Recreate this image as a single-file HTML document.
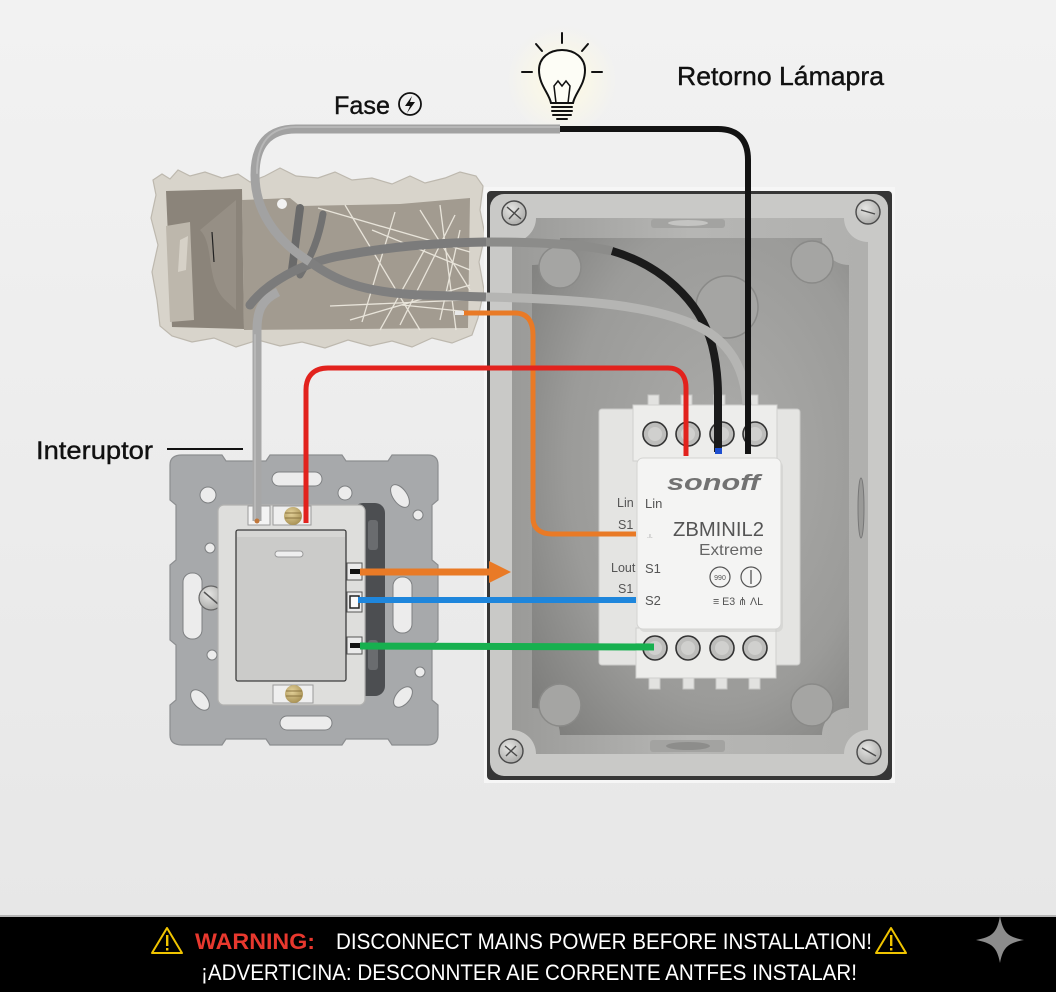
<!DOCTYPE html>
<html><head><meta charset="utf-8"><style>
html,body{margin:0;padding:0;background:#eee;}
svg{display:block;}
text{font-family:"Liberation Sans","Noto Sans CJK SC",sans-serif;}
</style></head><body>
<svg xmlns="http://www.w3.org/2000/svg" width="1056" height="992" viewBox="0 0 1056 992">
<defs>
<linearGradient id="wall" x1="0" y1="0" x2="0" y2="1">
 <stop offset="0" stop-color="#f2f2f2"/><stop offset="1" stop-color="#e7e7e7"/>
</linearGradient>
<radialGradient id="floor" cx="0.6" cy="0.45" r="0.75">
 <stop offset="0" stop-color="#acacaa"/><stop offset="0.65" stop-color="#9b9b99"/><stop offset="1" stop-color="#7f7f7d"/>
</radialGradient>
<linearGradient id="rim" x1="0" y1="0" x2="1" y2="0">
 <stop offset="0" stop-color="#9a9a98"/><stop offset="0.5" stop-color="#b6b6b4"/><stop offset="1" stop-color="#b0b0ae"/>
</linearGradient>
<radialGradient id="glow" cx="0.5" cy="0.5" r="0.5">
 <stop offset="0" stop-color="#fffbe2"/><stop offset="1" stop-color="#fffbe2" stop-opacity="0"/>
</radialGradient>
<radialGradient id="scr" cx="0.4" cy="0.35" r="0.7">
 <stop offset="0" stop-color="#e6e6e4"/><stop offset="1" stop-color="#a9a9a7"/>
</radialGradient>
<radialGradient id="brass" cx="0.4" cy="0.35" r="0.7">
 <stop offset="0" stop-color="#e4d29a"/><stop offset="1" stop-color="#a68f52"/>
</radialGradient>
</defs>

<!-- wall -->
<rect x="0" y="0" width="1056" height="917" fill="url(#wall)"/>
<circle cx="562" cy="80" r="55" fill="url(#glow)"/>

<!-- ===== wall hole ===== -->
<path d="M153,180 L162,174 170,179 178,170 190,176 205,172 222,178 238,174 250,182 265,176 280,168 296,176 318,178 335,172 352,180 372,178 392,184 410,176 425,183 445,178 460,172 476,176 483,186 480,210 485,235 479,262 484,290 478,318 472,335 452,343 432,338 412,347 392,341 370,346 348,340 325,348 302,342 280,346 258,340 236,347 214,338 192,342 172,336 160,326 157,300 152,272 158,245 151,218 156,195 Z" fill="#d8d4cb" stroke="#bdb8ae" stroke-width="1.2"/>
<path d="M166,191 L242,189 L244,329 L172,327 Z" fill="#8b847a"/>
<path d="M166,226 L190,222 L194,320 L170,322 Z" fill="#bdb7ac"/>
<path d="M180,240 L188,236 L186,270 L178,272 Z" fill="#d6d1c7"/>
<path d="M242,200 L290,198 L300,206 L400,204 L470,198 L468,328 L244,330 Z" fill="#a29b90"/>
<path d="M200,230 C215,245 205,280 225,300 L236,310 L236,200 Z" fill="#968f85"/>
<g stroke="#ece8de" stroke-width="1.3" fill="none" opacity="0.95">
 <path d="M318,208 L470,252"/><path d="M345,205 L420,330"/><path d="M395,212 L362,322"/>
 <path d="M440,205 L456,330"/><path d="M402,305 L470,312"/><path d="M330,306 L465,300"/>
 <path d="M420,210 L470,290"/><path d="M455,215 L400,325"/><path d="M372,230 L470,270"/>
 <path d="M430,240 L380,330"/><path d="M460,230 L440,320"/><path d="M350,320 L470,285"/>
</g>
<path d="M212,232 L214,262" stroke="#222" stroke-width="1.2"/>

<!-- ===== box recess ===== -->
<rect x="484" y="187" width="411" height="596" fill="#f6f6f6"/>
<rect x="487" y="191" width="405" height="589" rx="4" fill="#363636"/>
<rect x="490" y="194" width="398" height="582" rx="14" fill="#c9c9c7"/>
<path d="M536,218 L844,218 A24,24 0 0 0 868,242 L868,730 A24,24 0 0 0 844,754 L536,754 A24,24 0 0 0 512,730 L512,242 A24,24 0 0 0 536,218 Z" fill="url(#rim)"/>
<path d="M560,238 L822,238 A27,27 0 0 0 849,265 L849,708 A27,27 0 0 0 822,735 L560,735 A27,27 0 0 0 532,708 L532,265 A27,27 0 0 0 560,238 Z" fill="url(#floor)"/>
<!-- notches -->
<rect x="651" y="219" width="74" height="9" rx="3" fill="#a3a3a1"/>
<ellipse cx="688" cy="223" rx="20" ry="3" fill="#c4c4c2"/>
<rect x="650" y="740" width="75" height="12" rx="3" fill="#a3a3a1"/>
<ellipse cx="688" cy="746" rx="22" ry="4" fill="#8d8d8b"/>
<!-- side feature -->
<ellipse cx="861" cy="508" rx="3" ry="30" fill="#9a9a98" stroke="#777" stroke-width="1"/>
<!-- knockouts -->
<g fill="#a5a5a3" stroke="#8a8a88" stroke-width="1.5">
 <circle cx="560" cy="267" r="21"/><circle cx="727" cy="307" r="31"/><circle cx="812" cy="262" r="21"/>
 <circle cx="560" cy="705" r="21"/><circle cx="812" cy="705" r="21"/>
</g>
<!-- screws -->
<g stroke="#4a4a4a" stroke-width="1.4">
 <circle cx="514" cy="213" r="12" fill="url(#scr)"/><circle cx="868" cy="212" r="12" fill="url(#scr)"/>
 <circle cx="511" cy="751" r="12" fill="url(#scr)"/><circle cx="869" cy="752" r="12" fill="url(#scr)"/>
 <path d="M507,207 L521,219 M509,219 L519,208" fill="none"/>
 <path d="M861,210 L875,214" fill="none"/>
 <path d="M505,746 L517,756 M506,756 L516,746" fill="none"/>
 <path d="M862,748 L876,756" fill="none"/>
</g>

<!-- ===== switch ===== -->
<path d="M182,455 L222,455 L226,461 L266,461 L270,455 L342,455 L346,461 L388,461 L392,455 L428,455 Q438,455 438,465 L438,500 L432,505 L432,560 L438,565 L438,640 L432,645 L432,700 L438,705 L438,735 Q438,745 428,745 L392,745 L388,739 L346,739 L342,745 L270,745 L266,739 L226,739 L222,745 L182,745 Q170,745 170,735 L170,705 L176,700 L176,645 L170,640 L170,565 L176,560 L176,505 L170,500 L170,465 Q170,455 182,455 Z" fill="#a7a9ab" stroke="#8c8e90" stroke-width="1.2"/>
<g fill="#ececec" stroke="#7e8082" stroke-width="1">
 <rect x="272" y="472" width="50" height="14" rx="7"/>
 <rect x="280" y="716" width="52" height="14" rx="7"/>
 <rect x="183" y="573" width="19" height="66" rx="9"/>
 <rect x="393" y="577" width="19" height="56" rx="9"/>
 <circle cx="208" cy="495" r="8"/><circle cx="345" cy="493" r="7"/>
 <ellipse cx="400" cy="496" rx="7" ry="13" transform="rotate(-35 400 496)"/>
 <ellipse cx="200" cy="700" rx="7" ry="12" transform="rotate(-40 200 700)"/>
 <ellipse cx="403" cy="697" rx="7" ry="12" transform="rotate(40 403 697)"/>
 <circle cx="210" cy="548" r="5"/><circle cx="212" cy="655" r="5"/>
 <circle cx="418" cy="515" r="5"/><circle cx="420" cy="672" r="5"/>
</g>
<circle cx="211" cy="598" r="12" fill="url(#scr)" stroke="#666" stroke-width="1.2"/>
<path d="M204,592 L218,604" stroke="#555" stroke-width="1.5"/>
<rect x="353" y="503" width="32" height="193" rx="10" fill="#4c4e51"/>
<rect x="368" y="520" width="10" height="30" rx="3" fill="#6a6c6f"/>
<rect x="368" y="640" width="10" height="30" rx="3" fill="#6a6c6f"/>
<rect x="218" y="505" width="147" height="200" rx="6" fill="#dededc" stroke="#b2b2b0" stroke-width="1.2"/>
<rect x="236" y="530" width="110" height="151" rx="2" fill="#cbcbc9" stroke="#3e3e3e" stroke-width="1.3"/>
<rect x="237" y="531" width="108" height="6" fill="#d6d6d4"/>
<rect x="275" y="551" width="28" height="6" rx="3" fill="#efefef" stroke="#9a9a9a" stroke-width="1"/>
<rect x="248" y="506" width="22" height="19" fill="#f3f3f3" stroke="#9a9a9a" stroke-width="1"/>
<rect x="273" y="506" width="38" height="19" fill="#efefef" stroke="#9a9a9a" stroke-width="1"/>
<circle cx="293" cy="516" r="9" fill="url(#brass)"/>
<path d="M285,513 L301,513 M285,518 L301,518" stroke="#8a7440" stroke-width="1"/>
<rect x="273" y="685" width="40" height="18" fill="#efefef" stroke="#9a9a9a" stroke-width="1"/>
<circle cx="294" cy="694" r="9" fill="url(#brass)"/>
<path d="M286,691 L302,691 M286,696 L302,696" stroke="#8a7440" stroke-width="1"/>
<g fill="#eaeaea" stroke="#555" stroke-width="1">
 <rect x="347" y="563" width="15" height="17"/><rect x="347" y="592" width="15" height="20"/><rect x="347" y="637" width="15" height="17"/>
</g>
<rect x="350" y="569" width="10" height="5" fill="#111"/>
<rect x="350" y="596" width="9" height="12" fill="#fafafa" stroke="#222" stroke-width="1.5"/>
<rect x="350" y="643" width="10" height="5" fill="#111"/>

<!-- ===== module back ===== -->
<rect x="599" y="409" width="201" height="256" rx="3" fill="#e4e4e2" stroke="#cacac8" stroke-width="1"/>
<g fill="#e2e2e0" stroke="#c6c6c4" stroke-width="1">
 <rect x="648" y="395" width="11" height="12"/><rect x="681" y="395" width="11" height="12"/>
 <rect x="714" y="395" width="11" height="12"/><rect x="747" y="395" width="11" height="12"/>
 <rect x="649" y="677" width="11" height="12"/><rect x="683" y="677" width="11" height="12"/>
 <rect x="716" y="677" width="11" height="12"/><rect x="749" y="677" width="11" height="12"/>
</g>
<rect x="633" y="405" width="144" height="56" fill="#ededeb" stroke="#d0d0ce" stroke-width="1"/>
<rect x="636" y="628" width="140" height="50" fill="#ededeb" stroke="#d0d0ce" stroke-width="1"/>
<g stroke="#333" stroke-width="1.6" fill="#bdbdbb">
 <circle cx="655" cy="434" r="12"/><circle cx="688" cy="434" r="12"/><circle cx="722" cy="434" r="12"/><circle cx="755" cy="434" r="12"/>
 <circle cx="655" cy="648" r="12"/><circle cx="688" cy="648" r="12"/><circle cx="722" cy="648" r="12"/><circle cx="755" cy="648" r="12"/>
</g>
<g fill="#d0d0ce">
 <circle cx="655" cy="434" r="7"/><circle cx="688" cy="434" r="7"/><circle cx="722" cy="434" r="7"/><circle cx="755" cy="434" r="7"/>
 <circle cx="655" cy="648" r="7"/><circle cx="688" cy="648" r="7"/><circle cx="722" cy="648" r="7"/><circle cx="755" cy="648" r="7"/>
</g>

<!-- ===== cables ===== -->
<g fill="none" stroke-linecap="round" stroke-linejoin="round">
 <path d="M300,208 L292,270" stroke="#6a6a6a" stroke-width="8"/>
 <path d="M323,214 C319,238 312,255 300,275" stroke="#717171" stroke-width="7"/>
 <circle cx="282" cy="204" r="5" fill="#f2f2f2" stroke="none"/>
 <path d="M250,305 C265,285 300,262 345,255 C390,247 430,243 486,242" stroke="#7b7b7b" stroke-width="9"/>
 <path d="M486,242 C540,242 585,245 612,251" stroke="#8c8c8a" stroke-width="9" stroke-linecap="butt"/>
 <path d="M612,251 C660,265 700,300 712,345 C717,365 718,380 718,395 L718,452" stroke="#1b1b1b" stroke-width="8" stroke-linecap="butt"/>
 <path d="M560,129 L296,129 C268,129 255,145 255,175 C255,210 275,240 310,262" stroke="#a2a2a2" stroke-width="9" stroke-linecap="butt"/>
 <path d="M560,127 L296,127 C270,127 257,143 257,173" stroke="#c4c4c4" stroke-width="2" opacity="0.6"/>
 <path d="M310,262 C335,280 360,292 420,295 L486,297" stroke="#7f7f7f" stroke-width="9" stroke-linecap="butt"/>
 <path d="M486,297 C580,299 660,305 705,330 C735,348 745,375 747,405" stroke="#b5b5b3" stroke-width="9" stroke-linecap="butt"/>
 <path d="M257,521 L257,330 C257,310 262,300 278,292" stroke="#a7a7a7" stroke-width="9" stroke-linecap="butt"/>
 <path d="M255,520 L255,335" stroke="#c2c2c2" stroke-width="2" opacity="0.6"/>
 <path d="M560,129 L718,129 C738,129 748,140 748,160 L748,454" stroke="#131313" stroke-width="6" stroke-linecap="butt"/>
 <path d="M463,313 L515,313 C528,313 533,322 533,335 L533,518 C533,528 540,534 552,534 L636,534" stroke="#e97a26" stroke-width="5" stroke-linecap="butt"/>
 <path d="M306,523 L306,390 C306,376 314,368 328,368 L668,368 C680,368 686,376 686,388 L686,456" stroke="#e2221d" stroke-width="5" stroke-linecap="butt"/>
 <path d="M360,572 L492,572" stroke="#e97a26" stroke-width="7" stroke-linecap="butt"/>
 <path d="M358,600 L636,600" stroke="#1e86dc" stroke-width="6" stroke-linecap="butt"/>
 <path d="M360,646 L654,647" stroke="#17b04f" stroke-width="7" stroke-linecap="butt"/>
</g>
<polygon points="489,561 511,572 489,583" fill="#e97a26"/>
<rect x="455" y="311" width="9" height="4" fill="#e8e8e8"/>
<circle cx="257" cy="521" r="2.5" fill="#c0773a"/>
<rect x="715" y="448" width="7" height="6" fill="#1e4fd0"/>

<!-- ===== module cover ===== -->
<rect x="639" y="461" width="144" height="171" rx="6" fill="#cfcfcd" opacity="0.6"/>
<rect x="637" y="458" width="144" height="171" rx="6" fill="#f4f4f3" stroke="#d4d4d2" stroke-width="1"/>
<text x="667" y="490" font-size="22" font-weight="bold" font-style="italic" fill="#727272" textLength="93" lengthAdjust="spacingAndGlyphs">sonoff</text>
<text x="645" y="508" font-size="13" fill="#555">Lin</text>
<text x="673" y="536" font-size="20" fill="#555" textLength="91" lengthAdjust="spacingAndGlyphs">ZBMINIL2</text>
<text x="699" y="555" font-size="16" fill="#666" textLength="64" lengthAdjust="spacingAndGlyphs">Extreme</text>
<text x="647" y="538" font-size="7" fill="#999">.ı.</text>
<text x="645" y="573" font-size="13" fill="#555">S1</text>
<text x="645" y="605" font-size="13" fill="#555">S2</text>
<circle cx="720" cy="577" r="10" fill="none" stroke="#555" stroke-width="1.2"/>
<text x="720" y="580" font-size="7" fill="#555" text-anchor="middle">990</text>
<circle cx="751" cy="577" r="10" fill="none" stroke="#555" stroke-width="1.2"/>
<path d="M751,570 L751,584" stroke="#555" stroke-width="1.3"/>
<text x="713" y="605" font-size="11" fill="#555" textLength="50" lengthAdjust="spacingAndGlyphs">≡ E3 ⋔ ΛL</text>
<g font-size="12.5" fill="#555">
 <text x="617" y="507">Lin</text>
 <text x="618" y="529">S1</text>
 <text x="611" y="572">Lout</text>
 <text x="618" y="593">S1</text>
</g>

<!-- ===== labels ===== -->
<text x="334" y="114" font-size="25" fill="#111" stroke="#111" stroke-width="0.4" textLength="56" lengthAdjust="spacingAndGlyphs">Fase</text>
<circle cx="410" cy="104" r="11" fill="none" stroke="#111" stroke-width="1.8"/>
<path d="M412,96 L405,106 L410,106 L407,113 L415,102 L410,102 Z" fill="#111"/>
<text x="677" y="85" font-size="26" fill="#111" stroke="#111" stroke-width="0.4" textLength="207" lengthAdjust="spacingAndGlyphs">Retorno Lámapra</text>
<text x="36" y="459" font-size="25" fill="#111" stroke="#111" stroke-width="0.4" textLength="117" lengthAdjust="spacingAndGlyphs">Interuptor</text>
<path d="M167,449 L243,449" stroke="#111" stroke-width="2"/>

<!-- bulb -->
<g fill="none" stroke="#111" stroke-width="2" stroke-linecap="round">
 <path d="M551,103 C549,93 539,85 539,70 C539,58 549,50 562,50 C575,50 585,58 585,70 C585,85 575,93 573,103 Z" fill="#fdfdf6"/>
 <path d="M556,103 L554,86 L558,81 L562,86 L566,81 L570,86 L568,103" stroke-width="1.5"/>
 <path d="M552,107 L572,107 M552,111 L572,111 M553,115 L571,115 M557,119 L567,119"/>
 <path d="M562,33 L562,43 M536,44 L542,51 M588,44 L582,51 M522,72 L532,72 M592,72 L602,72"/>
</g>

<!-- ===== warning band ===== -->
<rect x="0" y="917" width="1056" height="75" fill="#000"/>
<rect x="0" y="915" width="1056" height="2" fill="#b5b5b5"/>
<g fill="none" stroke="#f0c400" stroke-width="2" stroke-linejoin="round">
 <path d="M167,928 L182,953 L152,953 Z"/>
 <path d="M891,928 L906,953 L876,953 Z"/>
</g>
<g fill="#f0c400">
 <rect x="166" y="935" width="2.4" height="11"/><rect x="166" y="948" width="2.4" height="2.5"/>
 <rect x="890" y="935" width="2.4" height="11"/><rect x="890" y="948" width="2.4" height="2.5"/>
</g>
<text x="195" y="949" font-size="22" font-weight="bold" fill="#e8382e" textLength="120" lengthAdjust="spacingAndGlyphs">WARNING:</text>
<text x="336" y="949" font-size="22" fill="#fff" textLength="536" lengthAdjust="spacingAndGlyphs">DISCONNECT MAINS POWER BEFORE INSTALLATION!</text>
<text x="201" y="980" font-size="22" fill="#fff" textLength="656" lengthAdjust="spacingAndGlyphs">¡ADVERTICINA: DESCONNTER AIE CORRENTE ANTFES INSTALAR!</text>
<path d="M1000,916 C1003,933 1008,937 1024,940 C1008,943 1003,947 1000,963 C997,947 992,943 976,940 C992,937 997,933 1000,916 Z" fill="#8c8c8c"/>
</svg>
</body></html>
